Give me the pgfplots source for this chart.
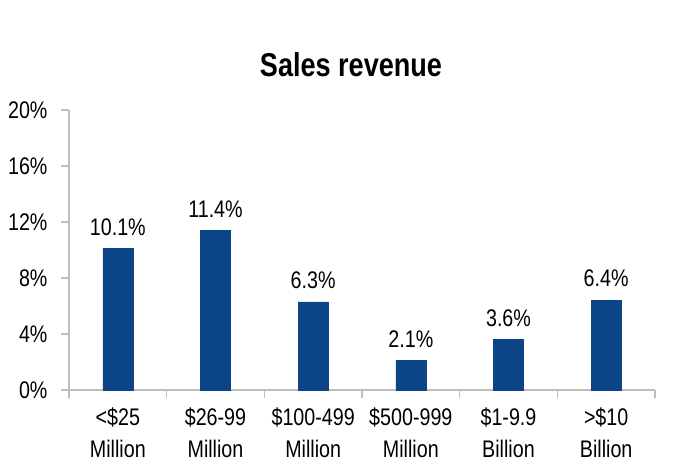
\documentclass[border=0pt]{standalone}
\usepackage{fontspec}
\setmainfont{Liberation Sans}[FakeStretch=0.82]
\usepackage{pgfplots}
\pgfplotsset{compat=1.18}
\definecolor{barblue}{RGB}{12,68,136}
\definecolor{axgray}{RGB}{190,190,190}
\begin{document}
\begin{tikzpicture}
\useasboundingbox (0,0) rectangle (696bp,468bp);
\node[anchor=base, font=\fontsize{33bp}{38bp}\selectfont\bfseries] at (351bp,391bp) {Sales revenue};
\begin{axis}[
  at={(69bp,78bp)}, anchor=south west,
  scale only axis, width=586bp, height=280bp,
  xmin=0, xmax=6, ymin=0, ymax=20,
  axis x line=bottom, axis y line=left,
  axis line style={-, draw=axgray, line width=1.2bp},
  xtick={0.5,1.5,2.5,3.5,4.5,5.5},
  xticklabels={{<\$25\\Million},{\$26-99\\Million},{\$100-499\\Million},{\$500-999\\Million},{\$1-9.9\\Billion},{>\$10\\Billion}},
  minor xtick={0,1,2,3,4,5,6},
  major x tick style={draw=none},
  minor x tick style={draw=axgray, line width=1.2bp},
  ytick={0,4,8,12,16,20},
  yticklabel={\pgfmathprintnumber{\tick}\%},
  major y tick style={draw=axgray, line width=1.2bp},
  tick align=outside,
  major tick length=8bp, minor tick length=8bp,
  /pgf/number format/assume math mode=true,
  tick label style={font=\fontsize{24bp}{32bp}\selectfont, text=black},
  xticklabel style={align=center, yshift=-6bp},
  yticklabel style={xshift=-10bp},
  ybar, bar width=30bp,
  nodes near coords={\pgfmathprintnumber[fixed,fixed zerofill,precision=1]{\pgfplotspointmeta}\%},
  nodes near coords style={font=\fontsize{24bp}{28bp}\selectfont, anchor=south, inner sep=0pt, yshift=13bp, text=black},
  clip=false,
]
\addplot[fill=barblue, draw=barblue] coordinates {(0.5,10.1) (1.5,11.4) (2.5,6.3) (3.5,2.1) (4.5,3.6) (5.5,6.4)};
\end{axis}
\end{tikzpicture}
\end{document}
